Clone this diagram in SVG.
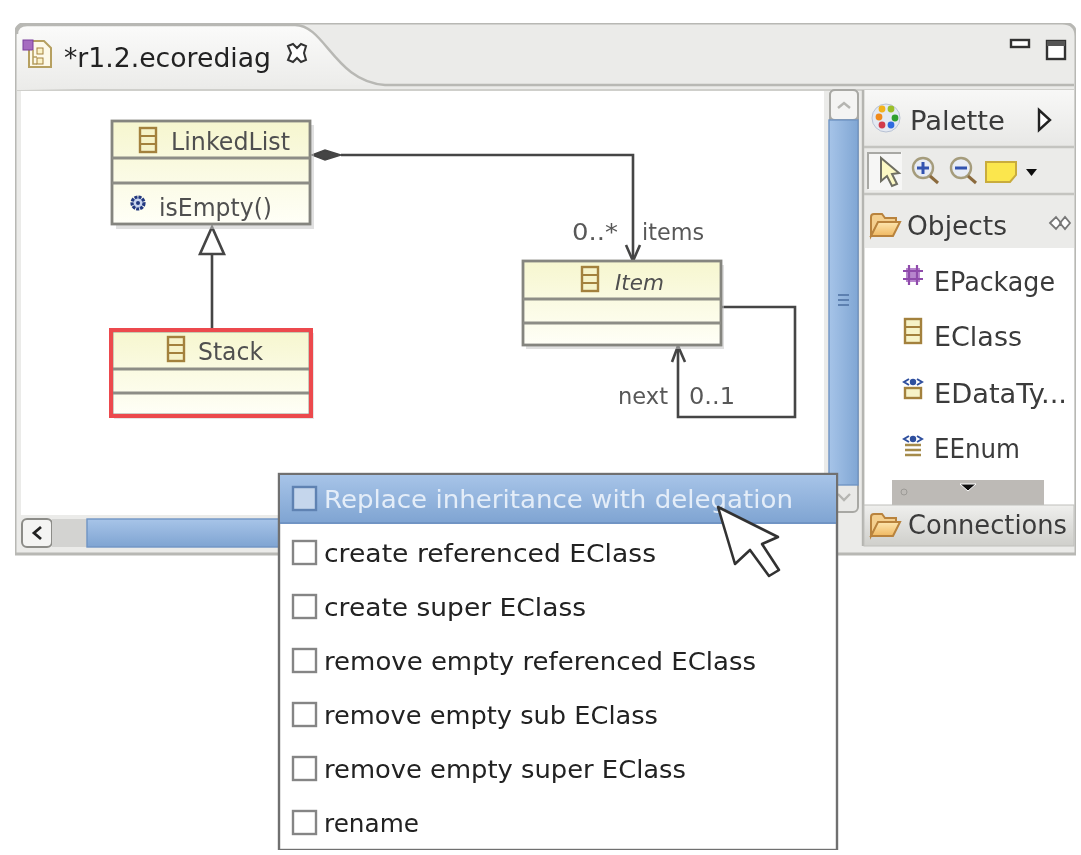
<svg xmlns="http://www.w3.org/2000/svg" width="1081" height="855" viewBox="0 0 1081 855">
<style>
text{font-family:"DejaVu Sans",sans-serif;fill:#3c3c3c}
.n{font-size:24px;fill:#505050}
.l{font-size:22.5px;fill:#585858}
.m{font-size:25.5px;fill:#222}
.p{font-size:26px;fill:#3a3a3a}
.box{fill:url(#cl);stroke:#85857f;stroke-width:2.8}
.sep{stroke:#8d8d86;stroke-width:2.8;fill:none}
.conn{fill:none;stroke:#444;stroke-width:2.6}
.cb{fill:#fff;stroke:#858585;stroke-width:2.4}
.ic{fill:#f6f3c8;stroke:#a3813c;stroke-width:2.4}
</style>
<defs>
<filter id="soft" x="0" y="0" width="100%" height="100%"><feGaussianBlur stdDeviation="0.5"/></filter>
<linearGradient id="cl" x1="0" y1="0" x2="0" y2="1"><stop offset="0" stop-color="#f6f6cf"/><stop offset="1" stop-color="#fffff7"/></linearGradient>
<linearGradient id="tab" x1="0" y1="0" x2="0" y2="1"><stop offset="0" stop-color="#fbfbfa"/><stop offset="1" stop-color="#ebebe9"/></linearGradient>
<linearGradient id="blue" x1="0" y1="0" x2="0" y2="1"><stop offset="0" stop-color="#a7c4e8"/><stop offset="1" stop-color="#7fa4d2"/></linearGradient>
<linearGradient id="blueh" x1="0" y1="0" x2="1" y2="0"><stop offset="0" stop-color="#a6c4e8"/><stop offset="1" stop-color="#80a6d4"/></linearGradient>
<linearGradient id="pal" x1="0" y1="0" x2="0" y2="1"><stop offset="0" stop-color="#f8f8f7"/><stop offset="1" stop-color="#e8e8e6"/></linearGradient>
<linearGradient id="con" x1="0" y1="0" x2="0" y2="1"><stop offset="0" stop-color="#efefed"/><stop offset="1" stop-color="#cfcfcb"/></linearGradient>
<linearGradient id="fold" x1="0" y1="0" x2="0" y2="1"><stop offset="0" stop-color="#fde6b0"/><stop offset="1" stop-color="#f0b860"/></linearGradient>
<g id="folder"><path d="M1 25V6Q1 3 4 3H12L15 7H26V11H9L1 25Z" fill="#f4cf8e" stroke="#b9833c" stroke-width="2"/><path d="M1 25L8 11H30L23 25Z" fill="url(#fold)" stroke="#b9833c" stroke-width="2"/></g>
<g id="classic"><rect x="0" y="0" width="16" height="24" class="ic"/><path d="M0 8H16M0 16H16" stroke="#a3813c" stroke-width="2.2"/></g>
<g id="enumt"><path d="M6 5L1 8L6 11M14 5L19 8L14 11" fill="none" stroke="#2f4f9e" stroke-width="2"/><circle cx="10" cy="8" r="3.2" fill="#2f4f9e"/></g>
</defs>
<rect width="1081" height="855" fill="#fff"/>
<g filter="url(#soft)">
<g id="editor-frame">
<path d="M15 554V36Q15 23 28 23H1062Q1076 23 1076 36V554Z" fill="#ebebe9" stroke="#b8b8b4" stroke-width="3"/>
<rect x="21" y="90" width="803" height="425" fill="#fff"/>
<rect x="17" y="89" width="1057" height="2" fill="#cfcfcb"/>
<path d="M17 88V34Q17 25 27 25H295C325 25 335 82 385 85H300L21 90H17Z" fill="url(#tab)"/>
<path d="M17 34Q17 25 27 25H295C325 25 335 82 385 85H1074" fill="none" stroke="#b8b8b4" stroke-width="2.4"/>
</g>

<g id="tab-title">
<path d="M29 41H44L51 48V67H29Z" fill="#fdf9e8" stroke="#b6a060" stroke-width="2"/>
<rect x="23" y="40" width="10" height="10" fill="#a66cc0" stroke="#7b3f9b"/>
<path d="M33 50V64H37M33 57H37" fill="none" stroke="#b6a060" stroke-width="1.6"/>
<rect x="37" y="48" width="6" height="6" fill="#fbf3c8" stroke="#a3813c"/><rect x="37" y="58" width="6" height="6" fill="#fbf3c8" stroke="#a3813c"/>
<text x="64" y="67" style="font-size:26px;fill:#222" textLength="207" lengthAdjust="spacingAndGlyphs">*r1.2.ecorediag</text>
<path d="M288 46L293 44L297 48L301 44L306 46L304 53L306 60L301 62L297 58L293 62L288 60L291 53Z" fill="#fff" stroke="#333" stroke-width="2"/>
<rect x="1011" y="40" width="18" height="7" fill="#fff" stroke="#333" stroke-width="2.4"/>
<rect x="1047" y="41" width="18" height="18" fill="#fff" stroke="#333" stroke-width="2.4"/><rect x="1047" y="41" width="18" height="5" fill="#555"/>
</g>

<g id="connectors">
<path class="conn" d="M341 155H633V261"/>
<path d="M312 155L325 150L341 155L325 160Z" fill="#444" stroke="#444" stroke-width="1.4"/>
<path class="conn" d="M626 245L633 261L640 245"/>
<path class="conn" d="M212 254V329"/>
<path d="M212 227L200 254H224Z" fill="#fff" stroke="#444" stroke-width="2.6"/>
<path class="conn" d="M722 307H795V417H678V346"/>
<path class="conn" d="M672 362L678 346L685 362"/>
</g>

<g id="LinkedList">
<rect x="116" y="125" width="198" height="104" fill="#c6c6c6" opacity=".55"/>
<rect class="box" x="112" y="121" width="198" height="103"/>
<path class="sep" d="M112 158H310M112 183H310"/>
<use href="#classic" x="140" y="128"/>
<text class="n" x="171" y="150" textLength="119" lengthAdjust="spacingAndGlyphs">LinkedList</text>
<circle cx="138" cy="203" r="6" fill="#c8d4ee" stroke="#23397f" stroke-width="3.2" stroke-dasharray="3 1"/>
<circle cx="138" cy="203" r="2" fill="#23397f"/>
<text class="n" x="159" y="216" textLength="113" lengthAdjust="spacingAndGlyphs">isEmpty()</text>
</g>

<g id="Stack">
<rect x="114" y="333" width="200" height="86" fill="#c6c6c6" opacity=".45"/>
<rect class="box" x="112" y="331" width="198" height="84"/>
<path class="sep" d="M112 369H310M112 393H310"/>
<rect x="111" y="330" width="200" height="86" fill="none" stroke="#ec4a4e" stroke-width="4"/>
<use href="#classic" x="168" y="337"/>
<text class="n" x="198" y="360" textLength="65" lengthAdjust="spacingAndGlyphs">Stack</text>
</g>

<g id="Item">
<rect x="526" y="265" width="198" height="84" fill="#c6c6c6" opacity=".55"/>
<rect class="box" x="523" y="261" width="198" height="84"/>
<path class="sep" d="M523 299H721M523 323H721"/>
<use href="#classic" x="582" y="267"/>
<text x="615" y="290" style="font-size:22px;font-style:italic;fill:#505050" textLength="49" lengthAdjust="spacingAndGlyphs">Item</text>
</g>

<g id="connector-labels">
<text class="l" x="572" y="240" textLength="46" lengthAdjust="spacingAndGlyphs">0..*</text>
<text class="l" x="642" y="240" textLength="62" lengthAdjust="spacingAndGlyphs">items</text>
<text class="l" x="618" y="404" textLength="50" lengthAdjust="spacingAndGlyphs">next</text>
<text class="l" x="689" y="404" textLength="46" lengthAdjust="spacingAndGlyphs">0..1</text>
</g>

<g id="scrollbars">
<rect x="830" y="90" width="28" height="422" rx="5" fill="#e9e9e7" stroke="#a8a8a4" stroke-width="2"/>
<rect x="830" y="90" width="28" height="30" rx="5" fill="#f4f4f3" stroke="#a8a8a4" stroke-width="2"/>
<path d="M838 108L844 103L850 108" fill="none" stroke="#b5b5b1" stroke-width="2.4"/>
<rect x="829" y="120" width="29" height="365" fill="url(#blueh)" stroke="#6f94c4" stroke-width="1.4"/>
<path d="M838 295H849M838 300H849M838 305H849" stroke="#5d80b0" stroke-width="2"/>
<path d="M838 494L844 500L850 494" fill="none" stroke="#b5b5b1" stroke-width="2.4"/>
<rect x="22" y="519" width="30" height="28" rx="5" fill="#f4f4f3" stroke="#8c8c88" stroke-width="2"/>
<path d="M41 527L34 533L41 539" fill="none" stroke="#222" stroke-width="2.8"/>
<rect x="52" y="519" width="36" height="28" fill="#d3d3d1"/>
<rect x="87" y="519" width="200" height="28" fill="url(#blue)" stroke="#6f94c4" stroke-width="1.4"/>
<rect x="838" y="516" width="22" height="32" fill="#ebebe9"/>
</g>

<g id="palette">
<rect x="864" y="90" width="210" height="456" fill="#ebebe9"/>
<path d="M863 90V546" stroke="#b5b5b1" stroke-width="2.4"/>
<rect x="865" y="90" width="209" height="56" fill="url(#pal)"/>
<path d="M864 147H1074M864 194H1074" stroke="#c4c4c0" stroke-width="2.4"/>
<circle cx="886" cy="118" r="14" fill="#e4e9f2" stroke="#b8c2d4"/>
<circle cx="882" cy="109" r="3.400" fill="#f2b21b"/><circle cx="891" cy="109" r="3.400" fill="#9bbf2b"/><circle cx="879" cy="117" r="3.400" fill="#f08a1a"/><circle cx="895" cy="118" r="3.400" fill="#2fa02f"/><circle cx="882" cy="125" r="3.400" fill="#d23b4c"/><circle cx="891" cy="125" r="3.400" fill="#2d6be0"/>
<text class="p" x="910" y="130" textLength="95" lengthAdjust="spacingAndGlyphs">Palette</text>
<path d="M1039 110L1050 120L1039 130Z" fill="#fff" stroke="#222" stroke-width="2.4"/>
<rect x="868" y="152" width="34" height="38" fill="#f6f6f5"/><path d="M868 189V153H901" fill="none" stroke="#a8a8a4" stroke-width="2"/>
<path d="M881 158V181L887 176L892 186L897 184L892 174L899 173Z" fill="#fbf8c4" stroke="#6e6e62" stroke-width="2"/>
<circle cx="923" cy="168" r="10" fill="#e8ecf4" stroke="#a59c7c" stroke-width="2.4"/><path d="M930 176L938 183" stroke="#8b6b3e" stroke-width="3"/><path d="M917 168H929M923 162V174" stroke="#3253b0" stroke-width="3"/>
<circle cx="961" cy="168" r="10" fill="#e8ecf4" stroke="#a59c7c" stroke-width="2.4"/><path d="M968 176L976 183" stroke="#8b6b3e" stroke-width="3"/><path d="M955 168H967" stroke="#3253b0" stroke-width="3"/>
<path d="M986 162H1016V175L1010 182H986Z" fill="#fbe64e" stroke="#c9ac3c" stroke-width="2"/>
<path d="M1026 169H1037L1031.500 176Z" fill="#111"/>
<use href="#folder" x="870" y="211"/>
<text class="p" x="907" y="235" textLength="100" lengthAdjust="spacingAndGlyphs">Objects</text>
<path d="M1050 223L1056 217L1061 223L1056 229ZM1060 223L1065 217L1070 223L1065 229Z" fill="#fff" stroke="#777" stroke-width="1.8"/>
<rect x="865" y="248" width="209" height="257" fill="#fff"/>
<rect x="906" y="268" width="14" height="14" fill="#a566c0" opacity=".8"/><path d="M903 271H923M903 279H923M909 265V285M917 265V285" stroke="#8f4bab" stroke-width="2.2"/>
<text class="p" x="934" y="291" textLength="121" lengthAdjust="spacingAndGlyphs">EPackage</text>
<rect x="905" y="319" width="16" height="24" class="ic"/><path d="M905 327H921M905 335H921" stroke="#a3813c" stroke-width="2.2"/>
<text class="p" x="934" y="346" textLength="88" lengthAdjust="spacingAndGlyphs">EClass</text>
<use href="#enumt" x="903" y="374"/><rect x="905" y="388" width="16" height="10" class="ic"/>
<text class="p" x="934" y="403" textLength="133" lengthAdjust="spacingAndGlyphs">EDataTy...</text>
<use href="#enumt" x="903" y="431"/><path d="M905 445H921M905 450H921M905 455H921" stroke="#a58b4c" stroke-width="2.4"/>
<text class="p" x="934" y="458" textLength="86" lengthAdjust="spacingAndGlyphs">EEnum</text>
<rect x="892" y="480" width="152" height="25" fill="#bdbab6"/>
<path d="M960 484H976L968 491Z" fill="#111" stroke="#fff"/>
<circle cx="904" cy="492" r="3" fill="none" stroke="#9c9a96"/>
<rect x="864" y="505" width="210" height="41" fill="url(#con)" stroke="#c0c0bc"/>
<use href="#folder" x="870" y="511"/>
<text class="p" x="908" y="534" textLength="159" lengthAdjust="spacingAndGlyphs">Connections</text>
</g>

<g id="menu">
<rect x="279" y="474" width="558" height="376" fill="#fff" stroke="#707070" stroke-width="2.4"/>
<rect x="280" y="475" width="556" height="48" fill="url(#blue)"/>
<path d="M280 523H836" stroke="#6f94c4" stroke-width="1.8"/>
<rect x="293" y="487" width="23" height="23" fill="#c5d6ec" stroke="#5f82b2" stroke-width="2.4"/>
<text class="m" x="324" y="508" style="fill:#e4edf8" textLength="469" lengthAdjust="spacingAndGlyphs">Replace inheritance with delegation</text>
<rect class="cb" x="293" y="541" width="23" height="23"/>
<text class="m" x="324" y="562" textLength="332" lengthAdjust="spacingAndGlyphs">create referenced EClass</text>
<rect class="cb" x="293" y="595" width="23" height="23"/>
<text class="m" x="324" y="616" textLength="262" lengthAdjust="spacingAndGlyphs">create super EClass</text>
<rect class="cb" x="293" y="649" width="23" height="23"/>
<text class="m" x="324" y="670" textLength="432" lengthAdjust="spacingAndGlyphs">remove empty referenced EClass</text>
<rect class="cb" x="293" y="703" width="23" height="23"/>
<text class="m" x="324" y="724" textLength="334" lengthAdjust="spacingAndGlyphs">remove empty sub EClass</text>
<rect class="cb" x="293" y="757" width="23" height="23"/>
<text class="m" x="324" y="778" textLength="362" lengthAdjust="spacingAndGlyphs">remove empty super EClass</text>
<rect class="cb" x="293" y="811" width="23" height="23"/>
<text class="m" x="324" y="832" textLength="95" lengthAdjust="spacingAndGlyphs">rename</text>
</g>

<g id="cursor">
<path d="M718 507L735 564L750 550L769 576L779 570L762 544L778 537Z" fill="#fff" stroke="#333" stroke-width="2.600" stroke-linejoin="round"/>
</g>
</g>
</svg>
